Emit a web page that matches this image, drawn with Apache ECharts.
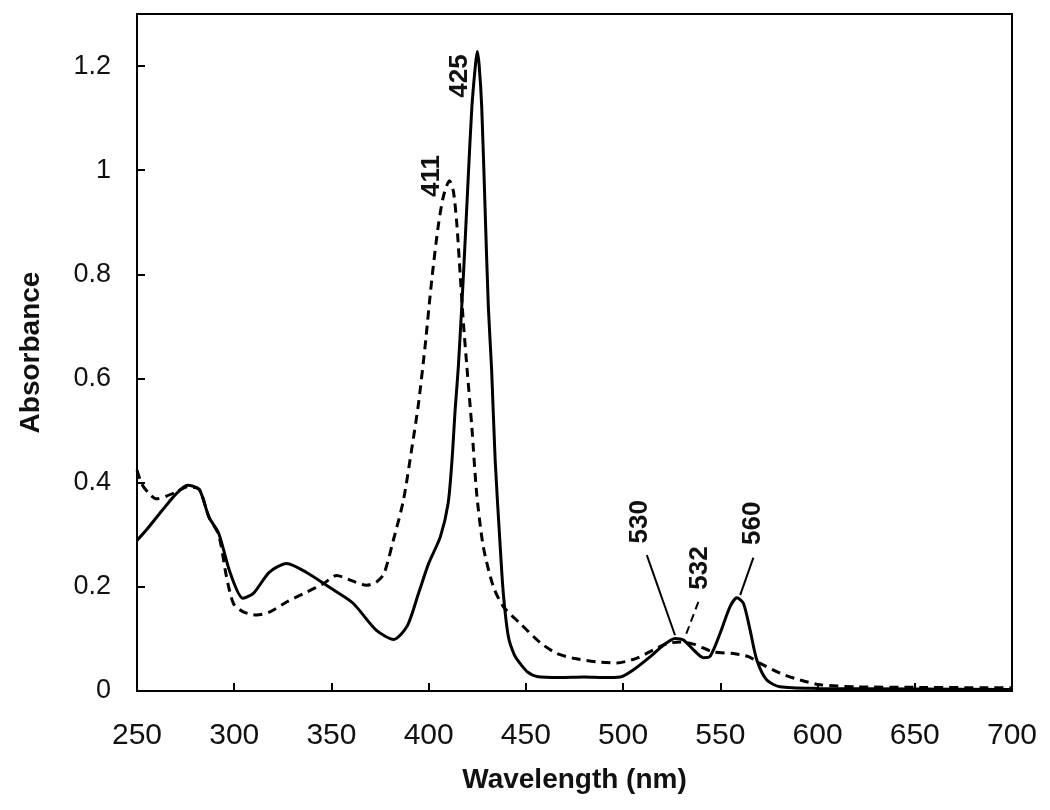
<!DOCTYPE html>
<html>
<head>
<meta charset="utf-8">
<script src="https://cdn.jsdelivr.net/npm/echarts@6/dist/echarts.min.js"></script>
<style>html,body{margin:0;padding:0;background:#fff}#c{width:1050px;height:810px}</style>
</head>
<body>
<div id="c"></div>
<script>
// Wavelength (nm) / absorbance pairs for the solid spectrum
const solidX = [250,255,263,270,276,282,287,292,298,304.5,310,318,327,337,349,361,373,382,389,395,400,406,410,412,413.6,415.3,417.9,420.4,422.2,424,425,426,427.3,429,430.7,432.4,434.2,436.7,438.4,441,444,447,451,455.6,467.6,480,490,498.5,505,514,520.7,526.7,531,536.2,541.3,544.8,549.9,555,558.5,561.9,565.3,568.8,573.9,580.7,600,650,700];
const solidY = [0.289,0.31,0.347,0.378,0.395,0.387,0.334,0.303,0.226,0.178,0.188,0.228,0.245,0.228,0.199,0.169,0.117,0.099,0.125,0.190,0.245,0.296,0.36,0.443,0.539,0.625,0.80,0.99,1.12,1.2,1.228,1.2,1.12,0.928,0.737,0.615,0.443,0.283,0.187,0.104,0.07,0.053,0.036,0.028,0.026,0.027,0.026,0.027,0.040,0.066,0.088,0.101,0.098,0.079,0.064,0.067,0.111,0.162,0.179,0.168,0.117,0.059,0.021,0.008,0.005,0.004,0.003];
// Dashed spectrum
const dashX = [250,252.4,256,260,265,270,276,282,287,292,296,299.6,304.7,311.6,318.4,327,337.3,345.8,352.7,359.6,368,373,377,381.8,387,391.3,394.7,398.1,401.6,405,407.6,410.7,412.7,414.5,416.2,417.9,419.6,422.2,424.7,428.1,433.3,438.4,447,457.3,465.9,474.4,486.5,496.8,507.1,515.6,522.5,529.3,536.2,546.5,556.7,564.5,570.5,580.8,591.1,601.4,620,650,700];
const dashY = [0.424,0.398,0.38,0.369,0.374,0.382,0.392,0.387,0.334,0.30,0.22,0.168,0.152,0.146,0.152,0.171,0.190,0.206,0.222,0.213,0.203,0.209,0.225,0.289,0.366,0.465,0.55,0.66,0.79,0.895,0.95,0.98,0.96,0.896,0.80,0.705,0.625,0.507,0.379,0.277,0.20,0.162,0.130,0.093,0.072,0.063,0.056,0.054,0.063,0.079,0.091,0.094,0.090,0.075,0.072,0.066,0.053,0.034,0.021,0.012,0.008,0.007,0.006];

const yTickValues = [0,0.2,0.4,0.6,0.8,1,1.2];

// Peak annotations: text, text centre (nm, A), leader line from/to (nm, A), dashed?
const peakLabels = ['425','411','530','532','560'];
const peakTextAt = [[416.2,1.181],[401.7,0.989],[508.7,0.325],[539.6,0.236],[566.9,0.322]];
const peakLineFrom = [null,null,[512.2,0.261],[538.7,0.171],[567,0.256]];
const peakLineTo = [null,null,[526.7,0.107],[531.9,0.104],[560.2,0.184]];
const peakLineDashed = [false,false,false,true,false];

const toPairs = (xs, ys) => xs.map((x, i) => [x, ys[i]]);

const chart = echarts.init(document.getElementById('c'), null, {renderer: 'canvas'});

const leaderSolid = [], leaderDashed = [];
peakLabels.forEach((l, i) => {
  if (!peakLineFrom[i]) return;
  const seg = [{coord: peakLineFrom[i]}, {coord: peakLineTo[i]}];
  (peakLineDashed[i] ? leaderDashed : leaderSolid).push(seg);
});

const FONT = '"Liberation Sans", Arial, sans-serif';

chart.setOption({
  animation: false,
  backgroundColor: '#ffffff',
  grid: {left: 137, right: 38, top: 14, bottom: 119, show: true, borderColor: '#000', borderWidth: 2, containLabel: false},
  xAxis: {
    type: 'value', min: 250, max: 700, interval: 50,
    name: 'Wavelength (nm)', nameLocation: 'middle', nameGap: 75,
    nameTextStyle: {fontFamily: FONT, fontSize: 28, fontWeight: 'bold', color: '#111'},
    axisLine: {show: true, onZero: false, lineStyle: {color: '#000', width: 2}},
    axisTick: {show: true, inside: true, length: 8, lineStyle: {color: '#000', width: 2}},
    axisLabel: {fontFamily: FONT, fontSize: 30, color: '#111', margin: 30},
    splitLine: {show: false}
  },
  yAxis: {
    type: 'value', min: 0, max: 1.3,
    name: 'Absorbance', nameLocation: 'middle', nameGap: 92, nameRotate: 90,
    nameTextStyle: {fontFamily: FONT, fontSize: 28, fontWeight: 'bold', color: '#111'},
    axisLine: {show: true, lineStyle: {color: '#000', width: 2}},
    axisTick: {show: true, inside: true, length: 8, customValues: yTickValues, lineStyle: {color: '#000', width: 2}},
    axisLabel: {fontFamily: FONT, fontSize: 27, color: '#111', margin: 26, customValues: yTickValues},
    splitLine: {show: false}
  },
  series: [
    {
      type: 'line', data: toPairs(solidX, solidY), showSymbol: false, smooth: 0.25,
      lineStyle: {color: '#000', width: 3}, z: 3,
      markLine: {silent: true, symbol: 'none', label: {show: false}, lineStyle: {color: '#000', width: 2, type: 'solid'}, data: leaderSolid}
    },
    {
      type: 'line', data: toPairs(dashX, dashY), showSymbol: false, smooth: 0.25,
      lineStyle: {color: '#000', width: 3, type: [9, 6]}, z: 2,
      markLine: {silent: true, symbol: 'none', label: {show: false}, lineStyle: {color: '#000', width: 2, type: [8, 5]}, data: leaderDashed}
    }
  ]
});

const texts = peakLabels.map((l, i) => {
  const p = chart.convertToPixel({gridIndex: 0}, peakTextAt[i]);
  return {
    type: 'text', x: p[0], y: p[1], rotation: Math.PI / 2, z: 10,
    style: {text: l, fontFamily: FONT, fontSize: 26, fontWeight: 'bold', fill: '#111', align: 'center', verticalAlign: 'middle'}
  };
});
chart.setOption({graphic: texts});
</script>
</body>
</html>
